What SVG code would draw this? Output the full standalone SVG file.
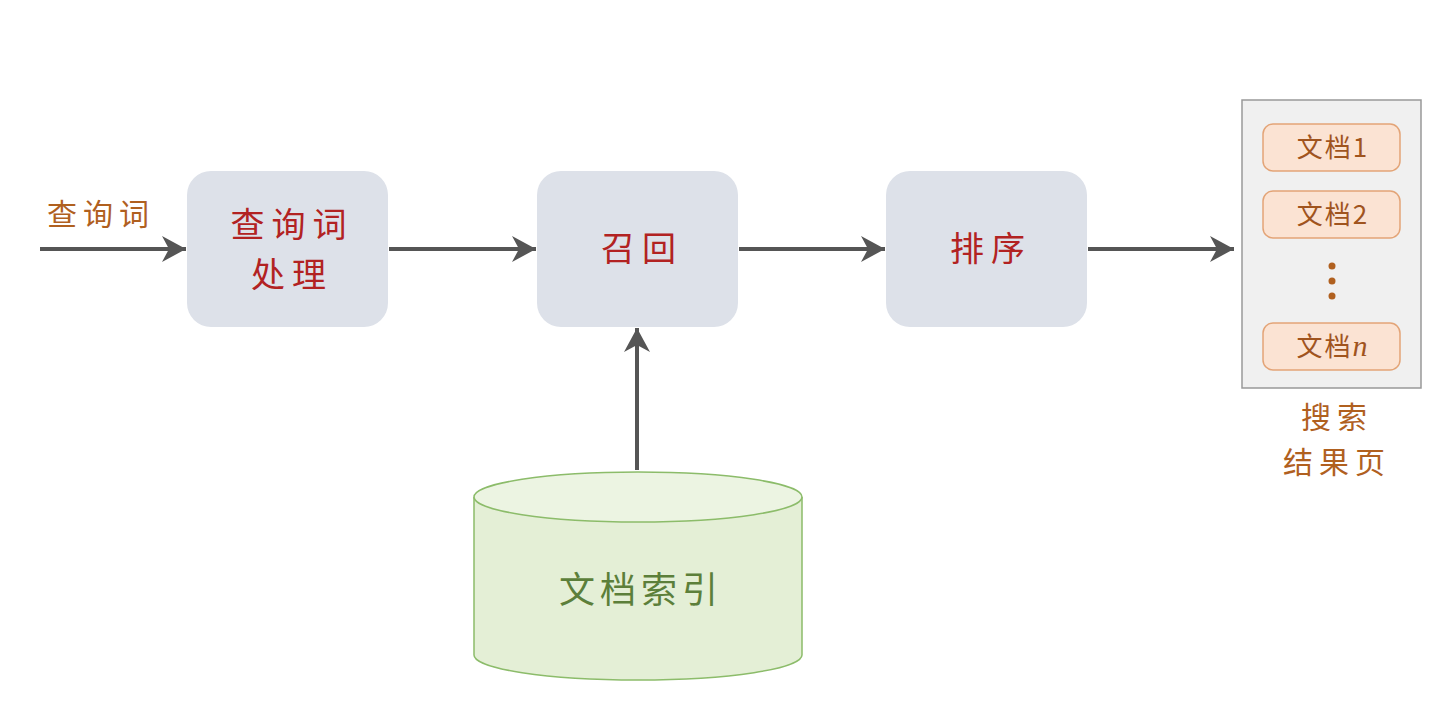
<svg xmlns="http://www.w3.org/2000/svg" width="1456" height="704" viewBox="0 0 1456 704">
<defs>
<style>
.box{fill:#dde1e9;}
.bt{font-family:"Noto Sans CJK SC",sans-serif;font-size:34px;fill:#b22222;text-anchor:middle;letter-spacing:7px;}
.lbl{font-family:"Noto Sans CJK SC",sans-serif;font-size:30px;fill:#b0601f;text-anchor:middle;letter-spacing:6px;}
.doc{fill:#fbe3d3;stroke:#e3a477;stroke-width:1.5;}
.dt{font-family:"Noto Sans CJK SC",sans-serif;font-size:26px;fill:#a0541e;text-anchor:middle;letter-spacing:2px;}
.conn{stroke:#555;stroke-width:4;fill:none;marker-end:url(#ah);}
</style>
<marker id="ah" markerUnits="userSpaceOnUse" markerWidth="28" markerHeight="30" viewBox="0 0 28 30" refX="26" refY="15" orient="auto">
<path d="M2,2 L26,15 L2,28 L9,15 Z" fill="#555"/>
</marker>
</defs>
<rect width="1456" height="704" fill="#ffffff"/>
<g id="connectors">
<line class="conn" x1="40" y1="249" x2="186" y2="249"/>
<line class="conn" x1="389" y1="249" x2="536" y2="249"/>
<line class="conn" x1="739" y1="249" x2="885" y2="249"/>
<line class="conn" x1="1088" y1="249" x2="1234" y2="249"/>
<line class="conn" x1="637" y1="470" x2="637" y2="328"/>
</g>
<g id="query-label">
<text class="lbl" x="101" y="225">查询词</text>
</g>
<g id="query-processing">
<rect class="box" x="187" y="171" width="201" height="156" rx="24"/>
<text class="bt" x="292" y="237">查询词</text>
<text class="bt" x="292" y="287">处理</text>
</g>
<g id="recall">
<rect class="box" x="537" y="171" width="201" height="156" rx="24"/>
<text class="bt" x="642" y="261">召回</text>
</g>
<g id="ranking">
<rect class="box" x="886" y="171" width="201" height="156" rx="24"/>
<text class="bt" x="991" y="261">排序</text>
</g>
<g id="doc-index">
<path d="M474,497 L474,655 A164,25 0 0 0 802,655 L802,497" fill="#e4efd6" stroke="#8cbc6a" stroke-width="1.5"/>
<ellipse cx="638" cy="497" rx="164" ry="25" fill="#ecf4e2" stroke="#8cbc6a" stroke-width="1.5"/>
<text x="641" y="603" font-family="Noto Sans CJK SC, sans-serif" font-size="36" fill="#5c7f3a" text-anchor="middle" letter-spacing="5">文档索引</text>
</g>
<g id="results">
<rect x="1242" y="100" width="179" height="288" fill="#f0f0f0" stroke="#999" stroke-width="1.5"/>
<rect class="doc" x="1263" y="124" width="137" height="47" rx="10"/>
<text class="dt" x="1333" y="157">文档1</text>
<rect class="doc" x="1263" y="191" width="137" height="47" rx="10"/>
<text class="dt" x="1333" y="224">文档2</text>
<circle cx="1332" cy="266" r="3.5" fill="#b0601f"/>
<circle cx="1332" cy="281" r="3.5" fill="#b0601f"/>
<circle cx="1332" cy="296" r="3.5" fill="#b0601f"/>
<rect class="doc" x="1263" y="323" width="137" height="47" rx="10"/>
<text class="dt" x="1333" y="356">文档<tspan font-family="Liberation Serif, serif" font-style="italic" font-size="30">n</tspan></text>
<text class="lbl" x="1337" y="428">搜索</text>
<text class="lbl" x="1337" y="473">结果页</text>
</g>
</svg>
